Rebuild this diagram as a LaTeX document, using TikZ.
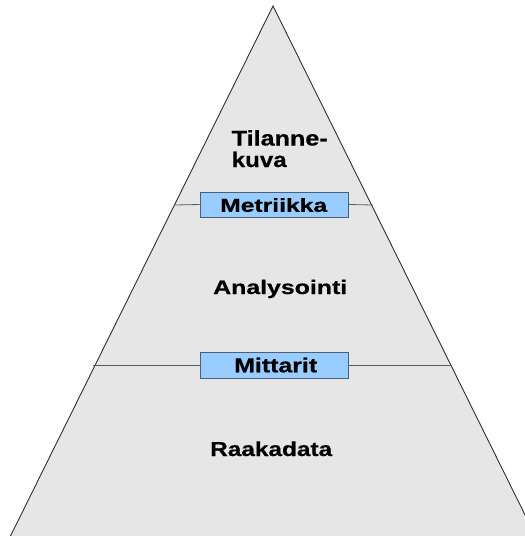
\documentclass[tikz,border=0pt]{standalone}
\usepackage{fontspec}
\usepackage{graphicx}
\setmainfont{Liberation Sans}[BoldFeatures={FakeBold=0.6}]
\definecolor{pyrfill}{HTML}{E6E6E6}
\definecolor{pyredge}{HTML}{303030}
\definecolor{divline}{HTML}{5A5A5A}
\definecolor{boxfill}{HTML}{99CCFF}
\definecolor{boxedge}{HTML}{4A6078}
% label text stretched to a given width and height
\newcommand{\lbl}[3]{\resizebox{#1pt}{#2pt}{\bfseries #3}}
\begin{document}
\begin{tikzpicture}[x=1pt,y=-1pt,
  levelbox/.style={draw=boxedge,fill=boxfill,line width=0.9pt,inner sep=0pt},
  divider/.style={draw=divline,line width=0.8pt},
  label/.style={inner sep=0pt,anchor=base west,text=black}]
\useasboundingbox (0,0) rectangle (525,536);
\clip (0,0) rectangle (525,536);
% pyramid body
\fill[pyrfill] (273,6) -- (10.5,536) -- (535.5,536) -- cycle;
\draw[pyredge,line width=0.9pt] (10.5,536) -- (273,6) -- (535.5,536);
% level boxes
\node[levelbox,minimum width=148pt,minimum height=25pt] (metr) at (274,204.5) {};
\node[levelbox,minimum width=148pt,minimum height=26pt] (mitt) at (274.8,365) {};
% dividing lines
\coordinate (mL) at (175,205);
\coordinate (mR) at (373,205);
\coordinate (tL) at (93,365);
\coordinate (tR) at (452,365);
\draw[divider] (mL) -- (metr.west);
\draw[divider] (metr.east) -- (mR);
\draw[divider] (tL) -- (mitt.west);
\draw[divider] (mitt.east) -- (tR);
% labels
\node[label] (til) at (231.5,145.5) {\lbl{96}{15.3}{Tilanne-}};
\node[label] (kuva) at (231.5,167) {\lbl{55}{15.3}{kuva}};
\node[label] (metrt) at (220,211.8) {\lbl{107}{13.6}{Metriikka}};
\node[label] (ana) at (213,294) {\lbl{134}{14.2}{Analysointi}};
\node[label] (mittt) at (234,372.3) {\lbl{83}{14.6}{Mittarit}};
\node[label] (raaka) at (210,456) {\lbl{122}{14.6}{Raakadata}};
\end{tikzpicture}
\end{document}
